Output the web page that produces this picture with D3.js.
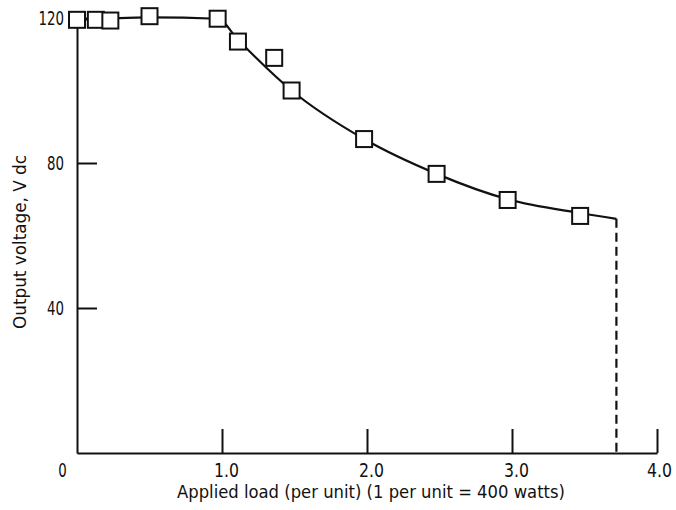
<!DOCTYPE html>
<html>
<head>
<meta charset="utf-8">
<script src="https://cdn.jsdelivr.net/npm/d3@7"></script>
<style>
  body { margin: 0; background: #fff; }
  text { font-family: "DejaVu Sans", sans-serif; fill: #111; }
</style>
</head>
<body>
<div id="chart"></div>
<script>
// measured points (per unit load, volts)
const loadPts = [0, 0.13, 0.23, 0.50, 0.97, 1.11, 1.36, 1.48, 1.98, 2.48, 2.97, 3.47]
const voltPts = [119.5, 119.5, 119.3, 120.5, 119.8, 113.5, 109, 100, 86.6, 77, 69.8, 65.4]

// faired curve through the data
const curveLoad = [0, 0.5, 0.97, 1.11, 1.48, 1.98, 2.48, 2.97, 3.47, 3.72]
const curveVolt = [119.5, 120.2, 119.8, 114, 100, 86.6, 77, 70, 66.2, 64.6]

// dashed drop at max load
const dropLoad = 3.72
const dropVolt = [64.6, 0]

const xTicks = [0, 1, 2, 3, 4]
const yTicks = [40, 80, 120]

const width = 676
const height = 510

// squeeze the labels a bit, the original type is a condensed face
const labelWidth = t => t.replace(/[^0-9]/g, "").length * 8.5 + (t.includes(".") ? 8 : 0)

const svg = d3.select("#chart")
  .append("svg")
  .attr("width", width)
  .attr("height", height)

const x = d3.scaleLinear().domain([0, 4]).range([77, 657])
const y = d3.scaleLinear().domain([0, 120]).range([453, 18])

// axes
const xFmt = d => d === 0 ? "0" : d3.format(".1f")(d)
const xAxisGroup = svg.append("g")
  .attr("transform", `translate(0, ${y(0)})`)
  .call(d3.axisBottom(x)
    .tickValues(xTicks)
    .tickSize(-24)
    .tickSizeOuter(0)
    .tickPadding(9)
    .tickFormat(xFmt))
xAxisGroup.selectAll("path, line").attr("stroke", "#111").attr("stroke-width", 2)
xAxisGroup.selectAll("text")
  .attr("font-size", 19)
  .attr("dy", "0.8em")
  .attr("dx", d => d === 0 ? -15 : (d === 4 ? 2 : 4))
  .attr("textLength", d => labelWidth(xFmt(d)))
  .attr("lengthAdjust", "spacingAndGlyphs")
xAxisGroup.selectAll(".tick").filter(d => d === 0).select("line").remove()

const yAxisGroup = svg.append("g")
  .attr("transform", `translate(${x(0)}, 0)`)
  .call(d3.axisLeft(y)
    .tickValues(yTicks)
    .tickSize(-20)
    .tickSizeOuter(0)
    .tickPadding(13))
yAxisGroup.selectAll("path, line").attr("stroke", "#111").attr("stroke-width", 2)
yAxisGroup.selectAll("text")
  .attr("font-size", 19)
  .attr("textLength", d => labelWidth(String(d)))
  .attr("lengthAdjust", "spacingAndGlyphs")

// axis titles
svg.append("text")
  .attr("x", 371)
  .attr("y", 498)
  .attr("text-anchor", "middle")
  .attr("font-size", 18)
  .attr("textLength", 388)
  .attr("lengthAdjust", "spacingAndGlyphs")
  .text("Applied load (per unit) (1 per unit = 400 watts)")

svg.append("text")
  .attr("transform", `translate(26, 242) rotate(-90)`)
  .attr("text-anchor", "middle")
  .attr("font-size", 18)
  .attr("textLength", 174)
  .attr("lengthAdjust", "spacingAndGlyphs")
  .text("Output voltage, V dc")

// curve
const curveData = curveLoad.map((d, i) => ({ load: d, volt: curveVolt[i] }))
svg.append("path")
  .datum(curveData)
  .attr("fill", "none")
  .attr("stroke", "#111")
  .attr("stroke-width", 2.2)
  .attr("d", d3.line()
    .x(d => x(d.load))
    .y(d => y(d.volt))
    .curve(d3.curveMonotoneX))

svg.append("line")
  .attr("x1", x(dropLoad)).attr("x2", x(dropLoad))
  .attr("y1", y(dropVolt[0])).attr("y2", y(dropVolt[1]))
  .attr("stroke", "#111")
  .attr("stroke-width", 2.2)
  .attr("stroke-dasharray", "9,5")

// markers
const pts = loadPts.map((d, i) => ({ load: d, volt: voltPts[i] }))
const s = 16
svg.selectAll("rect.pt").data(pts)
  .enter()
  .append("rect")
  .attr("class", "pt")
  .attr("x", d => x(d.load) - s / 2)
  .attr("y", d => y(d.volt) - s / 2)
  .attr("width", s)
  .attr("height", s)
  .attr("fill", "#fff")
  .attr("stroke", "#111")
  .attr("stroke-width", 2)
</script>
</body>
</html>
